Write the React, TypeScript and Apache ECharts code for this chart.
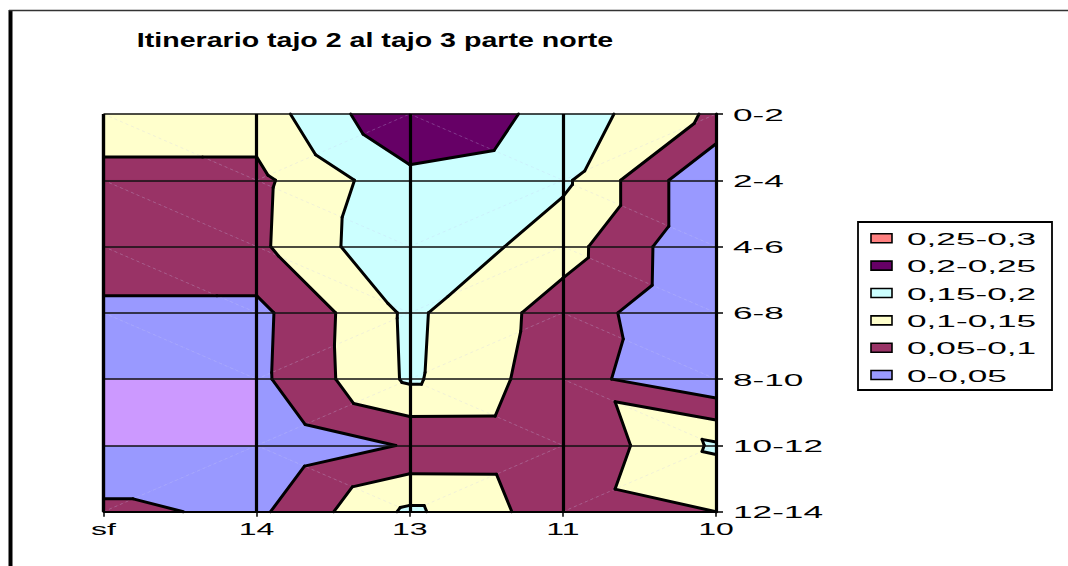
import React, { useEffect, useRef } from "react";
import * as echarts from "echarts";

// ---------- data ----------
const xCats = ["sf", "14", "13", "11", "10"];
const yCats = ["0-2", "2-4", "4-6", "6-8", "8-10", "10-12", "12-14"];

// values per x category, from row "0-2" (top) to "12-14" (bottom); null = blank cell
const colSf = [0.122, 0.088, 0.09, 0.036, null, null, 0.062];
const col14 = [0.122, 0.088, 0.09, 0.036, 0.038, 0.0, 0.039];
const col13 = [0.249, 0.185, 0.199, 0.16, 0.158, 0.055, 0.16];
const col11 = [0.18, 0.16, 0.12, 0.078, 0.07, 0.054, 0.07];
const col10 = [0.09, 0.001, 0.001, 0.0, 0.007, 0.158, 0.1];

const bandEdges = [0, 0.05, 0.1, 0.15, 0.2, 0.25, 0.3];
const bandLabels = ["0-0,05", "0,05-0,1", "0,1-0,15", "0,15-0,2", "0,2-0,25", "0,25-0,3"];
const bandColors = ["#9999FF", "#993366", "#FFFFCC", "#CCFFFF", "#660066", "#FF8080"];
const blankColor = "#CC99FF";
const titleText = "Itinerario tajo 2 al tajo 3 parte norte";

// ---------- contour geometry (data space: x = category index, y = row index) ----------
type P = [number, number, number];
const grid: (number | null)[][] = [colSf, col14, col13, col11, col10];
const raw = (i: number, j: number) => grid[i][j];
const val = (i: number, j: number) => {
  const v = grid[i][j];
  return v == null ? 0 : v;
};
const node = (i: number, j: number): P => [i, j, val(i, j)];

function clip(poly: P[], t: number, keepAbove: boolean): P[] {
  const out: P[] = [];
  if (!isFinite(t)) return poly;
  const inside = (p: P) => (keepAbove ? p[2] >= t : p[2] <= t);
  for (let k = 0; k < poly.length; k++) {
    const a = poly[k];
    const b = poly[(k + 1) % poly.length];
    const ia = inside(a);
    const ib = inside(b);
    if (ia) out.push(a);
    if (ia !== ib) {
      const f = (t - a[2]) / (b[2] - a[2]);
      out.push([a[0] + f * (b[0] - a[0]), a[1] + f * (b[1] - a[1]), t]);
    }
  }
  return out;
}
function area(poly: P[]) {
  let s = 0;
  for (let k = 0; k < poly.length; k++) {
    const a = poly[k];
    const b = poly[(k + 1) % poly.length];
    s += a[0] * b[1] - b[0] * a[1];
  }
  return Math.abs(s / 2);
}

const triangles: P[][] = [];
const diagonals: [number, number, number, number][] = [];
const blankCells: P[][] = [];
for (let i = 0; i < xCats.length - 1; i++) {
  for (let j = 0; j < yCats.length - 1; j++) {
    const nulls = [raw(i, j), raw(i + 1, j), raw(i, j + 1), raw(i + 1, j + 1)].filter((v) => v == null).length;
    const TL = node(i, j), TR = node(i + 1, j), BL = node(i, j + 1), BR = node(i + 1, j + 1);
    if (nulls >= 2) {
      blankCells.push([TL, TR, BR, BL]);
      continue;
    }
    if (TL[2] + BR[2] >= BL[2] + TR[2]) {
      triangles.push([TL, TR, BR], [TL, BR, BL]);
      diagonals.push([TL[0], TL[1], BR[0], BR[1]]);
    } else {
      triangles.push([TL, TR, BL], [TR, BR, BL]);
      diagonals.push([BL[0], BL[1], TR[0], TR[1]]);
    }
  }
}

const bandPolys: P[][][] = bandColors.map((_, b) => {
  const lo = b === 0 ? -Infinity : bandEdges[b];
  const hi = b === bandColors.length - 1 ? Infinity : bandEdges[b + 1];
  const polys: P[][] = [];
  triangles.forEach((tri) => {
    let p = clip(tri, lo, true);
    if (p.length >= 3) p = clip(p, hi, false);
    if (p.length >= 3 && area(p) > 1e-7) polys.push(p);
  });
  return polys;
});

const segments: [number, number, number, number][] = [];
bandEdges.slice(1, -1).forEach((t) => {
  triangles.forEach((tri) => {
    const pts: [number, number][] = [];
    for (let k = 0; k < 3; k++) {
      const a = tri[k];
      const b = tri[(k + 1) % 3];
      if (a[2] === t) pts.push([a[0], a[1]]);
      else if ((a[2] - t) * (b[2] - t) < 0) {
        const f = (t - a[2]) / (b[2] - a[2]);
        pts.push([a[0] + f * (b[0] - a[0]), a[1] + f * (b[1] - a[1])]);
      }
    }
    if (pts.length === 2) segments.push([pts[0][0], pts[0][1], pts[1][0], pts[1][1]]);
  });
});

const centroid = (p: P[]) => [
  p.reduce((s, q) => s + q[0], 0) / p.length,
  p.reduce((s, q) => s + q[1], 0) / p.length,
];

const FONT = '"Liberation Sans", Arial, sans-serif';

export default function App() {
  const ref = useRef<HTMLDivElement>(null);
  useEffect(() => {
    const chart = echarts.init(ref.current!, undefined, { renderer: "svg" });

    const polySeries = (name: string, polys: P[][], color: string) => ({
      type: "custom",
      name,
      coordinateSystem: "cartesian2d",
      silent: true,
      clip: false,
      z: 2,
      data: polys.map(centroid),
      renderItem: (params: any, api: any) => ({
        type: "polygon",
        shape: { points: polys[params.dataIndex].map((q) => api.coord([q[0], q[1]])) },
        style: { fill: color, stroke: color, lineWidth: 0.8 },
      }),
    });

    const segSeries = (name: string, segs: number[][], style: any, z: number) => ({
      type: "custom",
      name,
      coordinateSystem: "cartesian2d",
      silent: true,
      clip: false,
      z,
      data: segs.map((s) => [(s[0] + s[2]) / 2, (s[1] + s[3]) / 2]),
      renderItem: (params: any, api: any) => {
        const s = segs[params.dataIndex];
        const a = api.coord([s[0], s[1]]);
        const b = api.coord([s[2], s[3]]);
        return { type: "line", shape: { x1: a[0], y1: a[1], x2: b[0], y2: b[1] }, style };
      },
    });

    chart.setOption({
      animation: false,
      backgroundColor: "#fff",
      grid: { left: 103.5, top: 114, width: 612.5, height: 397.7, containLabel: false },
      xAxis: {
        type: "value",
        min: 0,
        max: xCats.length - 1,
        interval: 1,
        position: "bottom",
        z: 10,
        axisLine: { show: true, onZero: false, lineStyle: { color: "#000", width: 2 } },
        axisTick: { show: true, length: 5, lineStyle: { color: "#000", width: 1.5 } },
        axisLabel: { show: false },
        splitLine: { show: true, showMinLine: true, showMaxLine: true, lineStyle: { color: "#000", width: 3.2 } },
      },
      yAxis: {
        type: "value",
        min: 0,
        max: yCats.length - 1,
        interval: 1,
        inverse: true,
        position: "right",
        z: 10,
        axisLine: { show: true, onZero: false, lineStyle: { color: "#000", width: 3 } },
        axisTick: { show: true, length: 7, lineStyle: { color: "#000", width: 1.5 } },
        axisLabel: { show: false },
        splitLine: { show: true, showMinLine: true, showMaxLine: true, lineStyle: { color: "#111", width: 1.5 } },
      },
      series: [
        ...bandPolys.map((polys, b) => polySeries(bandLabels[b], polys, bandColors[b])),
        polySeries("blank", blankCells, blankColor),
        segSeries("mesh", diagonals, { stroke: "rgba(200,200,240,0.45)", lineWidth: 0.6, lineDash: [3, 3] }, 3),
        segSeries("contours", segments, { stroke: "#000", lineWidth: 3, lineCap: "round", lineJoin: "round" }, 4),
      ],
    });

    const px = (x: number, y: number) => chart.convertToPixel({ gridIndex: 0 }, [x, y]) as number[];
    const g: any[] = [];
    // left edge grid line of the plot (category "sf")
    const pTop = px(0, 0);
    const pBot = px(0, yCats.length - 1);
    g.push({ type: "line", shape: { x1: pTop[0], y1: pTop[1], x2: pBot[0], y2: pBot[1] }, style: { stroke: "#000", lineWidth: 3.2 }, z: 20 });
    // chart area border
    g.push({ type: "line", shape: { x1: 10.5, y1: 10, x2: 10.5, y2: 566 }, style: { stroke: "#000", lineWidth: 4 }, z: 20 });
    g.push({ type: "line", shape: { x1: 9, y1: 10.5, x2: 1068, y2: 10.5 }, style: { stroke: "#333", lineWidth: 1.5 }, z: 20 });
    // title
    g.push({
      type: "text", x: 375, y: 40, scaleX: 1.43, z: 20,
      style: { text: titleText, font: `bold 20px ${FONT}`, fill: "#000", textAlign: "center", textVerticalAlign: "middle", align: "center", verticalAlign: "middle" },
    });
    // category labels
    xCats.forEach((c, i) => {
      const p = px(i, yCats.length - 1);
      g.push({
        type: "text", x: p[0], y: p[1] + 18, scaleX: 2.0, z: 20,
        style: { text: c, font: `16px ${FONT}`, fill: "#000", textAlign: "center", textVerticalAlign: "middle", align: "center", verticalAlign: "middle" },
      });
    });
    yCats.forEach((c, j) => {
      const p = px(xCats.length - 1, j);
      g.push({
        type: "text", x: p[0] + 17, y: p[1] + 1, scaleX: 2.2, z: 20,
        style: { text: c, font: `16px ${FONT}`, fill: "#000", textAlign: "left", textVerticalAlign: "middle", align: "left", verticalAlign: "middle" },
      });
    });
    // legend
    g.push({ type: "rect", shape: { x: 858, y: 222, width: 194, height: 168 }, style: { fill: "#fff", stroke: "#000", lineWidth: 1.8 }, z: 19 });
    const order = bandLabels.map((_, b) => b).reverse();
    order.forEach((b, k) => {
      const cy = 238.3 + k * 27.35;
      g.push({ type: "rect", shape: { x: 871, y: cy - 4.5, width: 21, height: 9 }, style: { fill: bandColors[b], stroke: "#000", lineWidth: 1.6 }, z: 20 });
      g.push({
        type: "text", x: 907, y: cy + 1, scaleX: 2.2, z: 20,
        style: { text: bandLabels[b], font: `16px ${FONT}`, fill: "#000", textAlign: "left", textVerticalAlign: "middle", align: "left", verticalAlign: "middle" },
      });
    });
    chart.setOption({ graphic: g });

    return () => chart.dispose();
  }, []);
  return <div ref={ref} style={{ position: "absolute", left: 0, top: 0, width: 1068, height: 566, background: "#fff" }} />;
}
